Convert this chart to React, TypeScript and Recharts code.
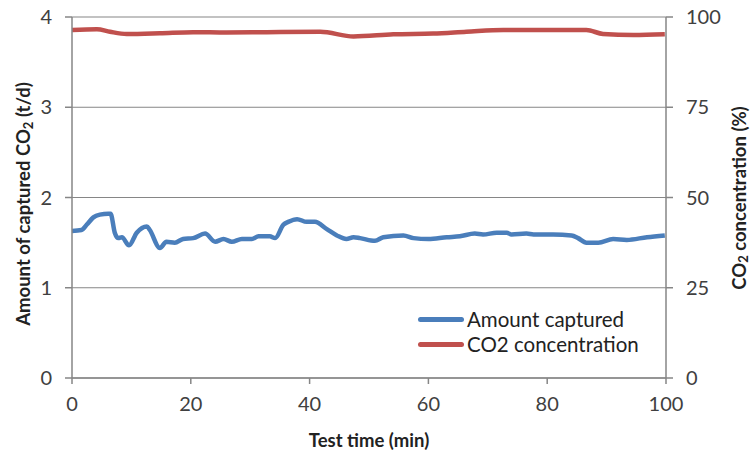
import React from 'react';
import { LineChart, Line, XAxis, YAxis, CartesianGrid } from 'recharts';

// time in minutes
const capturedTime = [
  0, 1.6, 2.5, 3.6, 4.7, 6.1, 6.5, 7.2, 7.8, 8.4, 9.6, 10.9, 12.6, 13.1, 14.8,
  15.9, 17.3, 18.7, 20.4, 22.4, 24.1, 25.5, 26.9, 28.6, 30.3, 31.4, 33.3, 34.2,
  35.6, 36.4, 37.9, 39.5, 40.9, 42.9, 44.6, 46.2, 47.4, 48.5, 51, 52.4, 55.8,
  57.5, 60, 63.1, 65.3, 67.8, 69.2, 71.5, 73.2, 74, 76.5, 77.7, 81, 84.1, 85.2,
  86.6, 88.6, 91.1, 93.4, 96.8, 99.8,
];
const capturedAmount = [
  1.63, 1.64, 1.7, 1.78, 1.81, 1.82, 1.82, 1.61, 1.55, 1.56, 1.47, 1.61, 1.68,
  1.64, 1.44, 1.51, 1.5, 1.54, 1.55, 1.6, 1.51, 1.54, 1.51, 1.54, 1.54, 1.57,
  1.57, 1.55, 1.7, 1.73, 1.76, 1.73, 1.73, 1.65, 1.58, 1.54, 1.56, 1.55, 1.52,
  1.56, 1.58, 1.55, 1.54, 1.56, 1.57, 1.6, 1.59, 1.61, 1.61, 1.59, 1.6, 1.59,
  1.59, 1.58, 1.55, 1.5, 1.5, 1.54, 1.53, 1.56, 1.58,
];

const concTime = [
  0, 4.2, 6.4, 9.2, 14.8, 20.4, 26, 32.8, 41.8, 47.4, 54.1, 60.8, 66.4, 72.6,
  79.3, 86.6, 89.4, 94.5, 99.8,
];
const concValue = [
  96.4, 96.6, 95.9, 95.3, 95.5, 95.8, 95.7, 95.8, 95.9, 94.6, 95.2, 95.4, 95.9,
  96.4, 96.4, 96.4, 95.3, 95.0, 95.2,
];

const xTicks = [0, 20, 40, 60, 80, 100];
const leftTicks = [0, 1, 2, 3, 4];
const rightTicks = [0, 25, 50, 75, 100];

const capturedData = capturedTime.map((t, i) => ({ t, amount: capturedAmount[i] }));
const concData = concTime.map((t, i) => ({ t, conc: concValue[i] }));

const FONT = 'Lato, "Open Sans", sans-serif';
const AXIS = '#868686';
const TEXT = '#404040';
const BLUE = '#4a7ebb';
const RED = '#c0504d';

const tick = { fill: TEXT, fontSize: 20, fontFamily: FONT };

function LeftTitle() {
  return (
    <text
      x={23}
      y={204}
      transform="rotate(-90 23 204)"
      textAnchor="middle"
      dominantBaseline="central"
      fontFamily={FONT}
      fontWeight="bold"
      fontSize={18.5}
      fill="#222"
    >
      Amount of captured CO
      <tspan fontSize={13} dy={5}>2</tspan>
      <tspan dy={-5}> (t/d)</tspan>
    </text>
  );
}

function RightTitle() {
  return (
    <text
      x={739}
      y={198}
      transform="rotate(-90 739 198)"
      textAnchor="middle"
      dominantBaseline="central"
      fontFamily={FONT}
      fontWeight="bold"
      fontSize={18.5}
      fill="#222"
    >
      CO
      <tspan fontSize={13} dy={4}>2</tspan>
      <tspan dy={-4}> concentration (%)</tspan>
    </text>
  );
}

function XTitle() {
  return (
    <text
      x={369}
      y={440}
      textAnchor="middle"
      dominantBaseline="central"
      fontFamily={FONT}
      fontWeight="bold"
      fontSize={18.5}
      fill="#222"
    >
      Test time (min)
    </text>
  );
}

const legendRows = [
  { name: 'Amount captured', color: BLUE },
  { name: 'CO2 concentration', color: RED },
];

function LegendBox() {
  return (
    <div
      style={{
        position: 'absolute',
        left: 418,
        top: 307,
        fontFamily: FONT,
        fontSize: 20.5,
        color: '#222',
        lineHeight: '25px',
      }}
    >
      {legendRows.map((r) => (
        <div key={r.name} style={{ display: 'flex', alignItems: 'center', height: 25 }}>
          <span
            style={{
              display: 'inline-block',
              width: 46,
              height: 5,
              borderRadius: 3,
              background: r.color,
              marginRight: 3,
            }}
          />
          {r.name}
        </div>
      ))}
    </div>
  );
}

export default function App() {
  return (
    <div style={{ position: 'absolute', left: 0, top: 0, width: 753, height: 455, background: '#fff' }}>
      <LineChart width={753} height={455} margin={{ top: 17, right: 0, bottom: 0, left: 0 }}>
        <CartesianGrid yAxisId="left" vertical={false} stroke={AXIS} strokeWidth={1.2} />
        <XAxis
          dataKey="t"
          type="number"
          domain={[0, 100]}
          ticks={xTicks}
          allowDuplicatedCategory={false}
          height={77}
          stroke={AXIS}
          strokeWidth={1.5}
          tickSize={6}
          tickMargin={13}
          tick={tick}
          label={<XTitle />}
        />
        <YAxis
          yAxisId="left"
          domain={[0, 4]}
          ticks={leftTicks}
          width={72}
          stroke={AXIS}
          strokeWidth={1.5}
          tickSize={7}
          tickMargin={13}
          tick={tick}
          label={<LeftTitle />}
        />
        <YAxis
          yAxisId="right"
          orientation="right"
          domain={[0, 100]}
          ticks={rightTicks}
          width={87}
          stroke={AXIS}
          strokeWidth={1.5}
          tickSize={7}
          tickMargin={13}
          tick={tick}
          label={<RightTitle />}
        />
        <Line
          yAxisId="left"
          data={capturedData}
          dataKey="amount"
          name="Amount captured"
          type="monotone"
          stroke={BLUE}
          strokeWidth={4.5}
          dot={false}
          isAnimationActive={false}
        />
        <Line
          yAxisId="right"
          data={concData}
          dataKey="conc"
          name="CO2 concentration"
          type="monotone"
          stroke={RED}
          strokeWidth={4.5}
          dot={false}
          isAnimationActive={false}
        />
      </LineChart>
      <LegendBox />
    </div>
  );
}
